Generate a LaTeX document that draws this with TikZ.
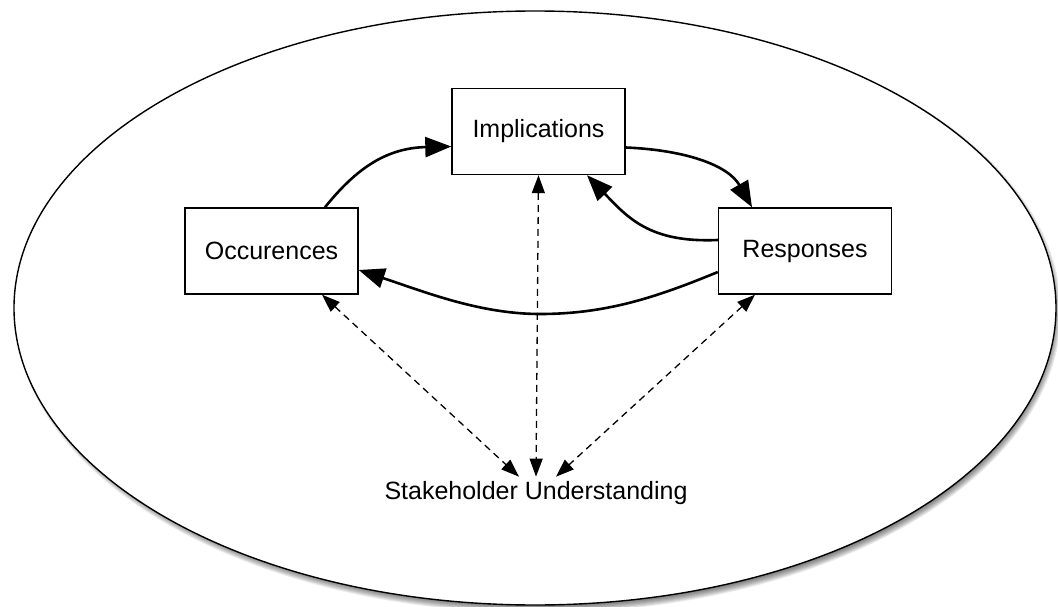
\documentclass[tikz,border=0pt]{standalone}
\usepackage{fontspec}
\setmainfont{Liberation Sans}
\usetikzlibrary{arrows.meta,calc}

\begin{document}
\begin{tikzpicture}[x=1pt,y=-1pt,
  box/.style={draw,line width=1.4pt,minimum width=173pt,minimum height=86pt,inner sep=0pt,
    font=\fontsize{25}{30}\selectfont},
  label/.style={inner sep=4pt,font=\fontsize{25}{30}\selectfont},
  flow/.style={line width=2.6pt,-{Triangle[length=26pt,width=20pt]}},
  link/.style={line width=1.3pt,dash pattern=on 7pt off 5pt,
    {Triangle[length=18pt,width=13pt]}-{Triangle[length=18pt,width=13pt]}}]

\useasboundingbox (0,0) rectangle (1058,607);

% soft shadow under the outer ellipse
\foreach \i in {0,...,9}{
  \fill[black,opacity=0.08] (538,312) ellipse ({514+\i} and {292+\i});
}
% outer ellipse
\filldraw[fill=white,line width=1.4pt] (535,308) ellipse (521 and 297);

% boxes
\node[box] (imp) at (538.5,131.5) {Implications};
\node[box] (occ) at (271.5,251) {Occurences};
\node[box] (res) at (805,251) {Responses};
\node[label,anchor=base] (su) at (536,499) {Stakeholder Understanding};

% main cycle
\draw[flow] ([xshift=53.5pt]occ.north) .. controls (355,170) and (385,148) .. ([yshift=-15pt]imp.west);
\draw[flow] ([yshift=-16pt]imp.east) .. controls (685,150) and (728,165) .. ([xshift=-53pt]res.north);
\draw[flow] ([yshift=11pt]res.west) .. controls (650,243) and (628,218) .. ([xshift=48.5pt]imp.south);
\draw[flow] ([yshift=-21pt]res.west) .. controls (655,298) and (605,314) .. (540,314)
  .. controls (480,314) and (425,292) .. ([yshift=-19pt]occ.east);

% links to stakeholder understanding
\draw[link] (imp.south) -- (su.north);
\draw[link] ([xshift=50.5pt]occ.south) -- ([xshift=-17pt]su.north);
\draw[link] ([xshift=-50pt]res.south) -- ([xshift=20pt]su.north);
\end{tikzpicture}
\end{document}
